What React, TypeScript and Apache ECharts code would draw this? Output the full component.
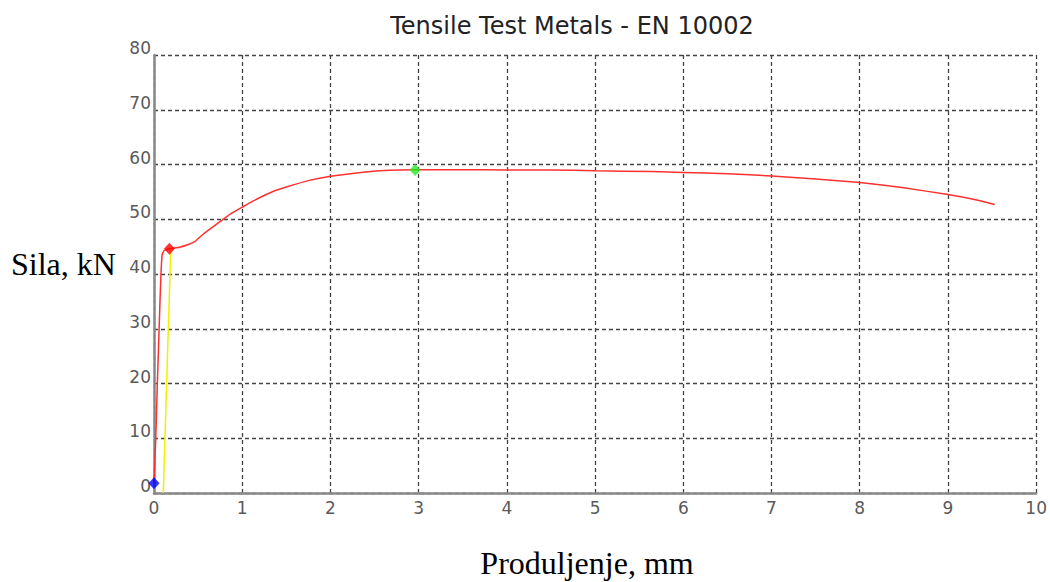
import React, { useEffect, useRef } from "react";
import * as echarts from "echarts";

const elongation = [
  0, 0.005, 0.02, 0.038, 0.058, 0.068, 0.079, 0.092, 0.115, 0.175, 0.29, 0.39, 0.46,
  0.56, 0.71, 0.86, 1.0, 1.12, 1.23, 1.37, 1.5, 1.76, 2.0, 2.37, 2.67, 2.96, 3.5, 4.0, 4.5, 5.0,
  5.65, 6.0, 6.5, 7.0, 7.5, 8.0, 8.5, 9.0, 9.3, 9.53,
];
const force = [
  1.8, 4, 10, 20, 30, 35, 40, 43.5, 44.3, 44.6, 44.9, 45.4, 45.9,
  47.3, 49.1, 50.9, 52.2, 53.3, 54.2, 55.2, 55.9, 57.1, 57.85, 58.6, 58.95, 59.05, 59.05, 59.0, 59.0, 58.85,
  58.7, 58.55, 58.3, 57.9, 57.35, 56.7, 55.75, 54.5, 53.6, 52.7,
];
const offsetX = [0.105, 0.19];
const offsetY = [0, 44.6];
const startPoint = [0, 1.8];
const yieldPoint = [0.175, 44.6];
const maxPoint = [2.96, 59.0];
const xTicks = [0, 1, 2, 3, 4, 5, 6, 7, 8, 9, 10];
const yTicks = [0, 10, 20, 30, 40, 50, 60, 70, 80];

export default function App() {
  const ref = useRef<HTMLDivElement>(null);
  useEffect(() => {
    if (!ref.current) return;
    const chart = echarts.init(ref.current, undefined, { renderer: "svg" });
    const curve = elongation.map((x, i) => [x, force[i]]);
    const offset = offsetX.map((x, i) => [x, offsetY[i]]);
    const labelStyle = { color: "#5a5a5a", fontFamily: "DejaVu Sans", fontSize: 17 };
    const split = { show: true, lineStyle: { color: "#444", type: [4, 3], width: 1.3 } };
    chart.setOption({
      animation: false,
      backgroundColor: "#fff",
      grid: { left: 154, right: 11, top: 55, bottom: 89, containLabel: false },
      xAxis: {
        type: "value",
        min: xTicks[0],
        max: xTicks[xTicks.length - 1],
        interval: 1,
        axisLine: { show: true, onZero: false, lineStyle: { color: "#888", width: 2.5 } },
        axisTick: { show: false },
        axisLabel: { ...labelStyle, margin: 6 },
        splitLine: split,
      },
      yAxis: {
        type: "value",
        min: yTicks[0],
        max: yTicks[yTicks.length - 1],
        interval: 10,
        axisLine: { show: true, onZero: false, lineStyle: { color: "#888", width: 2.5 } },
        axisTick: { show: false },
        axisLabel: { ...labelStyle, margin: 3, verticalAlign: "bottom", lineHeight: 14 },
        splitLine: split,
      },
      graphic: [
        {
          type: "text",
          x: 572,
          y: 26,
          style: {
            text: "Tensile Test Metals - EN 10002",
            fill: "#222",
            font: "24px 'DejaVu Sans'",
            align: "center",
            verticalAlign: "middle",
          },
        },
        {
          type: "text",
          x: 11,
          y: 264,
          style: {
            text: "Sila, kN",
            fill: "#000",
            font: "32px 'Liberation Serif'",
            align: "left",
            verticalAlign: "middle",
          },
        },
        {
          type: "text",
          x: 587,
          y: 563,
          style: {
            text: "Produljenje, mm",
            fill: "#000",
            font: "32px 'Liberation Serif'",
            align: "center",
            verticalAlign: "middle",
          },
        },
      ],
      series: [
        {
          type: "line",
          data: offset,
          showSymbol: false,
          lineStyle: { color: "#f2f000", width: 1.5 },
          z: 2,
        },
        {
          type: "line",
          data: curve,
          showSymbol: false,
          smooth: 0.15,
          lineStyle: { color: "#ff3030", width: 1.5 },
          z: 3,
        },
        {
          type: "scatter",
          symbol: "diamond",
          symbolSize: [11, 12],
          z: 4,
          data: [
            { value: startPoint, itemStyle: { color: "#0000ff" } },
            { value: yieldPoint, itemStyle: { color: "#ff0000" } },
            { value: maxPoint, itemStyle: { color: "#22ee22" } },
          ],
        },
      ],
    });
    return () => chart.dispose();
  }, []);
  return <div ref={ref} style={{ width: 1050, height: 582, position: "absolute", left: 0, top: 0 }} />;
}
